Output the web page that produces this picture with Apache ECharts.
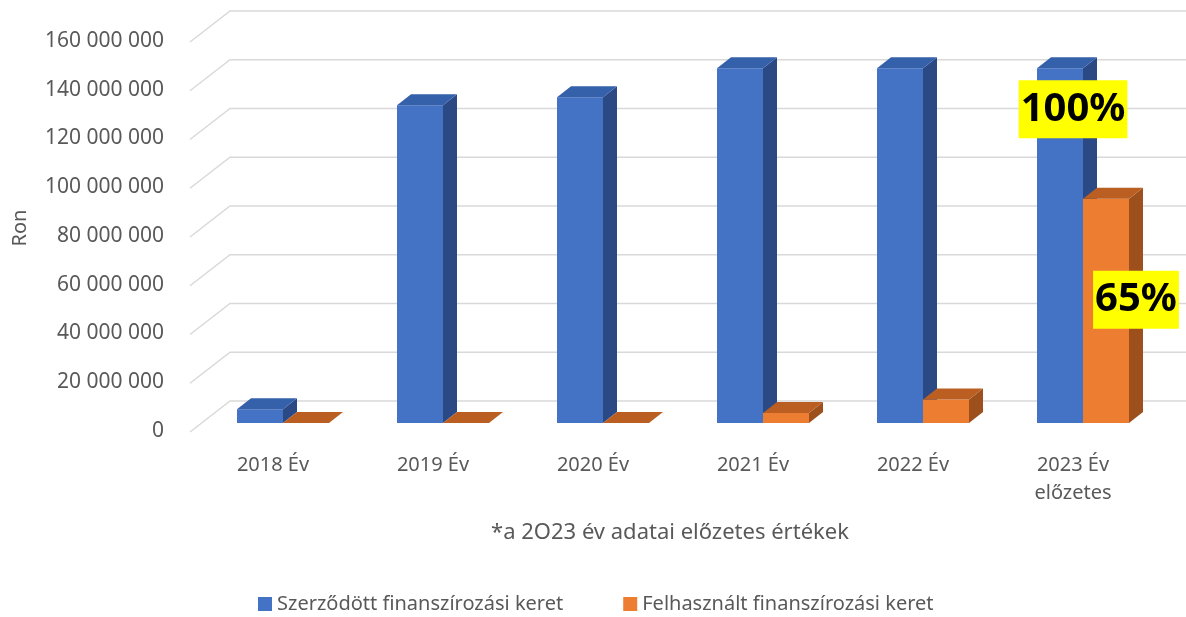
<!DOCTYPE html>
<html>
<head>
<meta charset="utf-8">
<script src="https://cdn.jsdelivr.net/npm/echarts@6/dist/echarts.min.js"></script>
<style>
  html, body { margin: 0; padding: 0; background: #fff; }
  #myChart { width: 1186px; height: 617px; }
</style>
</head>
<body>
<div id="myChart"></div>
<script>
// categories and values
var categories = ['2018 Év', '2019 Év', '2020 Év', '2021 Év', '2022 Év', '2023 Év\nelőzetes'];
var contracted = [5600000, 130400000, 133600000, 145500000, 145500000, 145500000];
var used = [0, 0, 0, 4100000, 9600000, 92000000];
var contractedLabels = ['', '', '', '', '', '100%'];
var usedLabels = ['', '', '', '', '', '65%'];
var yTicks = [0, 20000000, 40000000, 60000000, 80000000, 100000000, 120000000, 140000000, 160000000];

var FONT = '"Noto Sans", "Open Sans", sans-serif';
var TEXT = '#595959';

// fake 3D look, in pixels
var BAR_W = 46, DEPTH_X = 14, DEPTH_Y = -11, FRONT_X = 10, FRONT_Y = -8;
var WALL_X = 40, WALL_Y = -31;

function fmt(v) {
  return String(v).replace(/\B(?=(\d{3})+(?!\d))/g, ' ');
}

function barRenderer(side, colors, labels, labelOff) {
  return function (params, api) {
    var i = api.value(0);
    var v = api.value(1);
    var base = api.coord([i, 0]);
    var top = api.coord([i, v]);
    var x0 = base[0] + FRONT_X + (side < 0 ? -BAR_W : 0);
    var x1 = x0 + BAR_W;
    var yb = base[1] + FRONT_Y;
    var yt = top[1] + FRONT_Y;
    var children = [
      { type: 'polygon', shape: { points: [[x0, yb], [x1, yb], [x1, yt], [x0, yt]] },
        style: { fill: colors[0] } },
      { type: 'polygon', shape: { points: [[x1, yb], [x1 + DEPTH_X, yb + DEPTH_Y], [x1 + DEPTH_X, yt + DEPTH_Y], [x1, yt]] },
        style: { fill: colors[2] } },
      { type: 'polygon', shape: { points: [[x0, yt], [x1, yt], [x1 + DEPTH_X, yt + DEPTH_Y], [x0 + DEPTH_X, yt + DEPTH_Y]] },
        style: { fill: colors[1] } }
    ];
    var txt = labels[params.dataIndex];
    if (txt) {
      children.push({
        type: 'text',
        z2: 100,
        style: {
          x: base[0] + labelOff[0], y: top[1] + labelOff[1],
          text: txt, align: 'center', verticalAlign: 'middle',
          font: 'bold 40px ' + FONT, fill: '#000',
          backgroundColor: '#FFFF00', padding: [6, 2, 6, 2], lineHeight: 46
        }
      });
    }
    return { type: 'group', children: children };
  };
}

var myChart = echarts.init(document.getElementById('myChart'));

myChart.setOption({
  animation: false,
  textStyle: { fontFamily: FONT },
  grid: { left: 193, right: 33, top: 41, bottom: 186 },
  legend: {
    data: ['Szerződött finanszírozási keret', 'Felhasznált finanszírozási keret'],
    left: 258,
    top: 594,
    padding: 0,
    icon: 'rect',
    itemWidth: 14,
    itemHeight: 14,
    itemGap: 60,
    textStyle: { fontSize: 20, color: TEXT, fontFamily: FONT }
  },
  graphic: [
    { type: 'text', x: 20, y: 228, rotation: Math.PI / 2,
      style: { text: 'Ron', font: '20px ' + FONT, fill: TEXT, align: 'center', verticalAlign: 'middle' } },
    { type: 'text', x: 670, y: 533,
      style: { text: '*a 2O23 év adatai előzetes értékek', font: '22px ' + FONT, fill: TEXT, align: 'center', verticalAlign: 'middle' } }
  ],
  xAxis: {
    type: 'category',
    data: categories,
    axisLine: { show: false },
    axisTick: { show: false },
    axisLabel: { fontSize: 20, color: TEXT, margin: 20, lineHeight: 28, interval: 0 }
  },
  yAxis: {
    type: 'value',
    min: 0,
    max: 160000000,
    interval: 20000000,
    splitLine: { show: false },
    axisLine: { show: false },
    axisTick: { show: false },
    axisLabel: { fontSize: 21, color: TEXT, margin: 29, formatter: fmt }
  },
  series: [
    {
      name: 'wall',
      type: 'custom',
      silent: true,
      z: 1,
      data: yTicks.map(function (t) { return [0, t]; }),
      renderItem: function (params, api) {
        var p = api.coord([0, api.value(1)]);
        var cs = params.coordSys;
        var xl = cs.x - 3;
        return {
          type: 'polyline',
          shape: { points: [[xl, p[1] + 1], [xl + WALL_X, p[1] + 1 + WALL_Y], [cs.x + cs.width + 60, p[1] + 1 + WALL_Y]] },
          style: { stroke: '#D9D9D9', lineWidth: 1.5, fill: null }
        };
      }
    },
    {
      name: 'Szerződött finanszírozási keret',
      type: 'custom',
      z: 2,
      itemStyle: { color: '#4472C4' },
      data: contracted.map(function (v, i) { return [i, v]; }),
      renderItem: barRenderer(-1, ['#4472C4', '#3560AA', '#2B4A85'], contractedLabels, [0, 33])
    },
    {
      name: 'Felhasznált finanszírozási keret',
      type: 'custom',
      z: 3,
      itemStyle: { color: '#ED7D31' },
      data: used.map(function (v, i) { return [i, v]; }),
      renderItem: barRenderer(1, ['#ED7D31', '#BA5E22', '#9E501C'], usedLabels, [63, 93])
    }
  ]
});
</script>
</body>
</html>
